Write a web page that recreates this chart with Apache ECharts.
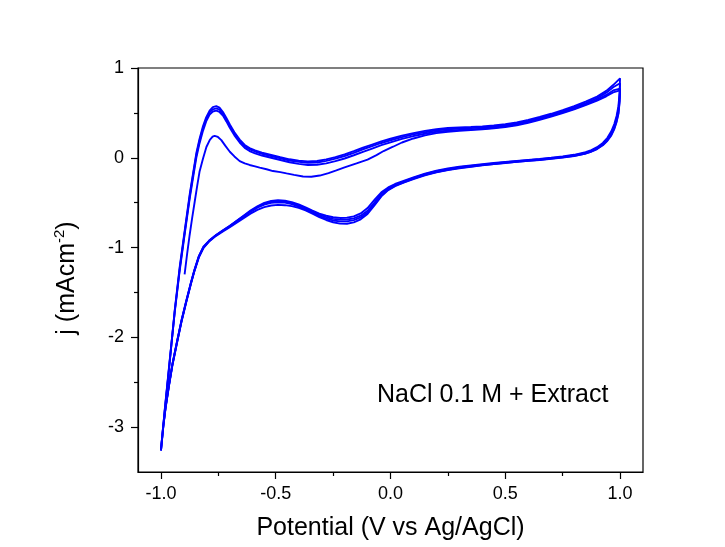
<!DOCTYPE html>
<html>
<head>
<meta charset="utf-8">
<script src="https://cdn.jsdelivr.net/npm/echarts@6/dist/echarts.min.js"></script>
<style>
  html, body { margin: 0; padding: 0; background: #fff; }
  #chart { width: 725px; height: 547px; }
</style>
</head>
<body>
<div id="chart"></div>
<script>
// tick values
var xMajor = [-1.0, -0.5, 0.0, 0.5, 1.0];
var xMinor = [-0.75, -0.25, 0.25, 0.75];
var yMajor = [1, 0, -1, -2, -3];
var yMinor = [0.5, -0.5, -1.5, -2.5];

// potential grids (V) for the forward and reverse sweeps
var fwdX = [-1.0,-0.984,-0.962,-0.94,-0.918,-0.896,-0.874,-0.86,-0.846,-0.832,
  -0.817,-0.803,-0.788,-0.774,-0.759,-0.745,-0.73,-0.715,-0.7,-0.68,
  -0.657,-0.635,-0.614,-0.59,-0.56,-0.52,-0.48,-0.44,-0.4,-0.36,
  -0.32,-0.28,-0.24,-0.2,-0.16,-0.12,-0.08,-0.04,0,0.05,
  0.1,0.15,0.2,0.25,0.3,0.35,0.4,0.45,0.5,0.55,
  0.6,0.65,0.7,0.75,0.8,0.85,0.9,0.94,0.97,1.0];
var revX = [1.0,0.998,0.993,0.985,0.975,0.962,0.945,0.925,0.9,0.875,
  0.85,0.8,0.75,0.7,0.65,0.6,0.55,0.5,0.45,0.4,
  0.35,0.3,0.25,0.2,0.15,0.1,0.06,0.02,-0.01,-0.04,
  -0.07,-0.1,-0.13,-0.16,-0.19,-0.22,-0.25,-0.28,-0.31,-0.34,
  -0.37,-0.4,-0.43,-0.46,-0.49,-0.52,-0.55,-0.58,-0.61,-0.64,
  -0.67,-0.7,-0.73,-0.76,-0.79,-0.815,-0.835,-0.855,-0.87,-0.89,
  -0.91,-0.93,-0.95,-0.965,-0.98,-0.99,-1.0];

// first cycle starts at -0.9 V
var firstFwdX = [-0.897,-0.886,-0.875,-0.864,-0.853,-0.842,-0.832,-0.817,-0.802,-0.787,
  -0.775,-0.766,-0.752,-0.737,-0.72,-0.7,-0.68,-0.657,-0.635,-0.614,
  -0.59,-0.57,-0.54,-0.512,-0.48,-0.453,-0.42,-0.381,-0.345,-0.308,
  -0.27,-0.236,-0.2,-0.148,-0.1,-0.061,-0.03,0.011,0.05,0.1,
  0.15,0.2,0.25,0.3,0.35,0.4,0.45,0.5,0.55,0.6,
  0.65,0.7,0.75,0.8,0.85,0.9,0.94,0.97,1.0];
var firstFwdJ = [-1.3,-1.07,-0.86,-0.67,-0.49,-0.31,-0.156,-0.01,0.12,0.2,
  0.235,0.245,0.232,0.197,0.135,0.067,0.015,-0.037,-0.063,-0.08,
  -0.095,-0.11,-0.128,-0.148,-0.16,-0.174,-0.19,-0.208,-0.212,-0.198,
  -0.17,-0.14,-0.108,-0.063,-0.02,0.03,0.075,0.123,0.17,0.215,
  0.25,0.275,0.29,0.3,0.308,0.316,0.327,0.342,0.362,0.39,
  0.422,0.458,0.498,0.54,0.587,0.637,0.685,0.728,0.75];
var firstRevJ = [0.75,0.62,0.49,0.4,0.32,0.25,0.19,0.14,0.097,0.068,
  0.046,0.02,0.003,-0.011,-0.024,-0.035,-0.046,-0.058,-0.071,-0.085,
  -0.1,-0.117,-0.138,-0.162,-0.195,-0.237,-0.275,-0.315,-0.36,-0.43,
  -0.53,-0.625,-0.685,-0.72,-0.735,-0.733,-0.718,-0.693,-0.66,-0.622,
  -0.585,-0.558,-0.538,-0.528,-0.525,-0.532,-0.55,-0.58,-0.622,-0.672,
  -0.722,-0.772,-0.82,-0.87,-0.932,-1.005,-1.11,-1.27,-1.41,-1.61,
  -1.82,-2.06,-2.31,-2.54,-2.79,-3.0,-3.26];

// cycle 2
var c2FwdJ = [-3.26,-2.82,-2.26,-1.72,-1.25,-0.84,-0.44,-0.22,0.0,0.16,
  0.30,0.405,0.48,0.515,0.525,0.51,0.47,0.405,0.335,0.25,
  0.17,0.11,0.075,0.05,0.025,0.0,-0.025,-0.05,-0.068,-0.08,
  -0.078,-0.062,-0.038,-0.008,0.028,0.066,0.103,0.14,0.172,0.21,
  0.242,0.268,0.29,0.303,0.31,0.316,0.324,0.335,0.35,0.37,
  0.398,0.43,0.466,0.505,0.548,0.596,0.648,0.7,0.75,0.77];
var c2RevJ = [0.77,0.63,0.5,0.41,0.33,0.26,0.195,0.145,0.1,0.07,
  0.048,0.022,0.005,-0.009,-0.022,-0.033,-0.044,-0.056,-0.069,-0.082,
  -0.097,-0.113,-0.134,-0.158,-0.19,-0.232,-0.27,-0.31,-0.355,-0.42,
  -0.52,-0.61,-0.665,-0.695,-0.708,-0.708,-0.698,-0.678,-0.65,-0.613,
  -0.575,-0.543,-0.517,-0.5,-0.495,-0.502,-0.522,-0.556,-0.602,-0.655,
  -0.708,-0.763,-0.812,-0.864,-0.928,-1.0,-1.105,-1.265,-1.405,-1.605,
  -1.815,-2.055,-2.305,-2.535,-2.785,-2.99,-3.25];

// cycle 3
var c3FwdJ = [-3.25,-2.83,-2.27,-1.71,-1.23,-0.82,-0.415,-0.19,0.03,0.19,
  0.33,0.43,0.505,0.54,0.55,0.535,0.49,0.425,0.355,0.27,
  0.19,0.13,0.095,0.07,0.045,0.02,-0.005,-0.03,-0.045,-0.055,
  -0.052,-0.035,-0.01,0.02,0.055,0.095,0.13,0.165,0.195,0.23,
  0.26,0.285,0.305,0.318,0.325,0.33,0.338,0.348,0.362,0.382,
  0.41,0.442,0.478,0.518,0.56,0.61,0.665,0.725,0.785,0.83];
var c3RevJ = [0.83,0.68,0.54,0.44,0.355,0.28,0.21,0.155,0.11,0.078,
  0.055,0.028,0.01,-0.004,-0.017,-0.028,-0.039,-0.05,-0.063,-0.076,
  -0.09,-0.106,-0.126,-0.15,-0.183,-0.225,-0.262,-0.3,-0.34,-0.4,
  -0.5,-0.59,-0.645,-0.675,-0.688,-0.688,-0.68,-0.662,-0.636,-0.6,
  -0.562,-0.53,-0.503,-0.487,-0.482,-0.49,-0.512,-0.548,-0.595,-0.65,
  -0.705,-0.76,-0.81,-0.862,-0.925,-0.995,-1.1,-1.26,-1.4,-1.6,
  -1.81,-2.05,-2.3,-2.53,-2.78,-2.99,-3.26];

// cycle 4
var c4FwdJ = [-3.26,-2.84,-2.28,-1.7,-1.21,-0.8,-0.395,-0.17,0.05,0.21,
  0.35,0.45,0.525,0.565,0.575,0.558,0.51,0.443,0.37,0.284,
  0.203,0.143,0.108,0.082,0.057,0.032,0.007,-0.017,-0.032,-0.04,
  -0.036,-0.018,0.008,0.038,0.073,0.112,0.147,0.182,0.212,0.246,
  0.275,0.3,0.318,0.331,0.338,0.343,0.35,0.36,0.374,0.394,
  0.422,0.454,0.49,0.53,0.574,0.625,0.682,0.745,0.81,0.885];
var c4RevJ = [0.885,0.72,0.575,0.465,0.375,0.295,0.222,0.165,0.118,0.085,
  0.062,0.033,0.015,0.0,-0.013,-0.024,-0.035,-0.046,-0.058,-0.071,
  -0.085,-0.1,-0.12,-0.144,-0.176,-0.218,-0.255,-0.292,-0.33,-0.385,
  -0.47,-0.56,-0.62,-0.652,-0.667,-0.67,-0.663,-0.646,-0.622,-0.588,
  -0.552,-0.52,-0.494,-0.477,-0.472,-0.48,-0.503,-0.54,-0.588,-0.645,
  -0.702,-0.757,-0.808,-0.86,-0.922,-0.99,-1.095,-1.255,-1.395,-1.595,
  -1.805,-2.045,-2.295,-2.525,-2.775,-2.985,-3.26];

function cycle(fx, fj, rj) {
  var pts = fx.map(function (x, i) { return [x, fj[i]]; });
  for (var i = 1; i < revX.length; i++) pts.push([revX[i], rj[i]]);
  return pts;
}

var cycles = [
  cycle(firstFwdX, firstFwdJ, firstRevJ),
  cycle(fwdX, c2FwdJ, c2RevJ),
  cycle(fwdX, c3FwdJ, c3RevJ),
  cycle(fwdX, c4FwdJ, c4RevJ)
];

var FONT = 'Liberation Sans, Arial, sans-serif';
var black = '#000';

var myChart = echarts.init(document.getElementById('chart'), null, { renderer: 'canvas' });

var option = {
  backgroundColor: '#fff',
  animation: false,
  textStyle: { fontFamily: FONT, color: black },
  grid: {
    left: 138, right: 82, top: 68, bottom: 75,
    show: true, borderColor: black, borderWidth: 1.2, backgroundColor: 'transparent'
  },
  xAxis: [
    {
      type: 'value', min: -1.1, max: 1.1, position: 'bottom',
      name: 'Potential (V vs Ag/AgCl)', nameLocation: 'middle', nameGap: 44,
      nameTextStyle: { fontSize: 25, color: black, fontFamily: FONT },
      axisLine: { onZero: false, lineStyle: { color: black, width: 1.2 } },
      axisTick: { length: 7, customValues: xMajor, lineStyle: { color: black, width: 1.2 } },
      axisLabel: {
        customValues: xMajor, fontSize: 18, color: black, margin: 13, fontFamily: FONT,
        formatter: function (v) { return v.toFixed(1); }
      },
      splitLine: { show: false }
    },
    {
      type: 'value', min: -1.1, max: 1.1, position: 'bottom',
      axisLine: { show: false, onZero: false },
      axisTick: { length: 4, customValues: xMinor, lineStyle: { color: black, width: 1.2 } },
      axisLabel: { show: false },
      splitLine: { show: false }
    }
  ],
  yAxis: [
    {
      type: 'value', min: -3.5, max: 1, position: 'left',
      name: '{n|j (mAcm}{s|-2}{n|)}', nameLocation: 'middle', nameGap: 56,
      nameTextStyle: {
        color: black, fontFamily: FONT, padding: [0, 16, 0, 0],
        rich: {
          n: { fontSize: 25, lineHeight: 30, fontFamily: FONT, color: black },
          s: { fontSize: 15, lineHeight: 30, verticalAlign: 'top', fontFamily: FONT, color: black }
        }
      },
      axisLine: { onZero: false, lineStyle: { color: black, width: 1.2 } },
      axisTick: { length: 7, customValues: yMajor, lineStyle: { color: black, width: 1.2 } },
      axisLabel: {
        customValues: yMajor, fontSize: 18, color: black, margin: 14, fontFamily: FONT,
        formatter: function (v) { return String(v); }
      },
      splitLine: { show: false }
    },
    {
      type: 'value', min: -3.5, max: 1, position: 'left',
      axisLine: { show: false, onZero: false },
      axisTick: { length: 4, customValues: yMinor, lineStyle: { color: black, width: 1.2 } },
      axisLabel: { show: false },
      splitLine: { show: false }
    }
  ],
  graphic: [
    {
      type: 'text', left: 377, top: 383,
      style: { text: 'NaCl 0.1 M + Extract', fontSize: 25, fontFamily: FONT, fill: black }
    }
  ],
  series: cycles.map(function (d, i) {
    return {
      name: 'cycle ' + (i + 1),
      type: 'line',
      xAxisIndex: 0,
      yAxisIndex: 0,
      data: d,
      showSymbol: false,
      symbol: 'none',
      smooth: false,
      lineStyle: { color: '#0000ff', width: 1.9 }
    };
  })
};

myChart.setOption(option);
</script>
</body>
</html>
